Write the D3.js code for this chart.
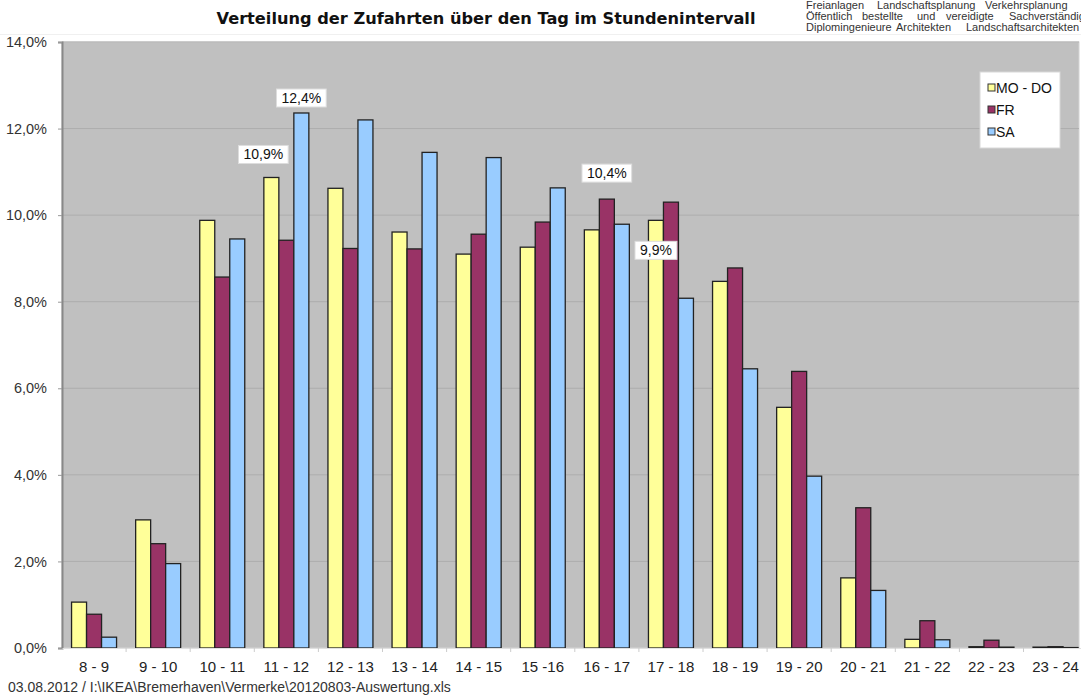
<!DOCTYPE html>
<html lang="de">
<head>
<meta charset="UTF-8">
<title>Verteilung der Zufahrten</title>
<script src="https://cdn.jsdelivr.net/npm/d3@7"></script>
<style>
  body { margin: 0; background: #fff; }
  text { font-family: "Liberation Sans", Arial, sans-serif; }
</style>
</head>
<body>
<script>
var hours = ['8 - 9', '9 - 10', '10 - 11', '11 - 12', '12 - 13', '13 - 14', '14 - 15', '15 -16',
             '16 - 17', '17 - 18', '18 - 19', '19 - 20', '20 - 21', '21 - 22', '22 - 23', '23 - 24'];
var series = ['MO - DO', 'FR', 'SA'];
var moDo = [1.06, 2.96, 9.88, 10.87, 10.62, 9.61, 9.10, 9.26, 9.66, 9.88, 8.47, 5.56, 1.62, 0.20, 0.03, 0.02];
var fr   = [0.78, 2.41, 8.57, 9.42, 9.23, 9.22, 9.56, 9.84, 10.37, 10.30, 8.78, 6.39, 3.24, 0.63, 0.18, 0.03];
var sa   = [0.25, 1.95, 9.45, 12.36, 12.20, 11.45, 11.33, 10.63, 9.79, 8.08, 6.45, 3.97, 1.33, 0.19, 0.02, 0.01];
var yTicks = [0, 2, 4, 6, 8, 10, 12, 14];
// beschriftete Werte: [Stunde, Reihe, Text]
var labels = [['11 - 12', 'MO - DO', '10,9%'], ['11 - 12', 'SA', '12,4%'],
              ['16 - 17', 'FR', '10,4%'], ['17 - 18', 'MO - DO', '9,9%']];

var colors = { 'MO - DO': '#ffff99', 'FR': '#993366', 'SA': '#99ccff' };
var values = { 'MO - DO': moDo, 'FR': fr, 'SA': sa };

var W = 1081, H = 695;
var pLeft = 62, pTop = 42, pBottom = 648, pRight = 1079;

var svg = d3.select('body').append('svg').attr('width', W).attr('height', H);

var x = d3.scaleBand().domain(hours).range([pLeft, pLeft + 16 * 64.1]).paddingInner(0).paddingOuter(0);
var xs = d3.scaleBand().domain(series).range([x.bandwidth() / 2 - 22.5, x.bandwidth() / 2 + 22.5]);
var y = d3.scaleLinear().domain([0, 14]).range([pBottom, pTop]);

// Plotfläche
svg.append('rect').attr('x', pLeft).attr('y', pTop).attr('width', pRight - pLeft).attr('height', pBottom - pTop)
  .attr('fill', '#c0c0c0').attr('stroke', '#d4d4d4');

// Gitternetz
svg.selectAll('line.grid').data(yTicks.slice(1)).enter().append('line')
  .attr('x1', pLeft).attr('x2', pRight)
  .attr('y1', function(d) { return y(d); }).attr('y2', function(d) { return y(d); })
  .attr('stroke', '#adadad').attr('stroke-width', 1);

// Balken
var groups = svg.selectAll('g.hour').data(hours).enter().append('g')
  .attr('transform', function(d) { return 'translate(' + x(d) + ',0)'; });

groups.selectAll('rect').data(function(h, i) {
    return series.map(function(s) { return { s: s, v: values[s][i] }; });
  }).enter().append('rect')
  .attr('x', function(d) { return xs(d.s); })
  .attr('width', xs.bandwidth())
  .attr('y', function(d) { return y(d.v); })
  .attr('height', function(d) { return pBottom - y(d.v); })
  .attr('fill', function(d) { return colors[d.s]; })
  .attr('stroke', '#222').attr('stroke-width', 1.3);

// Achsen
var yAxis = svg.append('g').attr('transform', 'translate(' + pLeft + ',0)')
  .call(d3.axisLeft(y).tickValues(yTicks).tickSize(4).tickPadding(11)
    .tickFormat(function(d) { return d3.format('.1f')(d).replace('.', ',') + '%'; }));
yAxis.select('.domain').attr('stroke', '#888').attr('stroke-width', 2);
yAxis.selectAll('.tick line').attr('stroke', '#999');
yAxis.selectAll('text').attr('font-size', 14.5).attr('fill', '#333').style('font-family', '"Liberation Sans", Arial, sans-serif');

var xAxis = svg.append('g').attr('transform', 'translate(0,' + pBottom + ')')
  .call(d3.axisBottom(x).tickSize(0).tickPadding(13));
xAxis.select('.domain').attr('stroke', '#e0e0e0');
xAxis.selectAll('text').attr('font-size', 15).attr('fill', '#222').style('font-family', '"Liberation Sans", Arial, sans-serif');
svg.selectAll('line.xt').data(hours.slice(1)).enter().append('line')
  .attr('x1', function(d) { return x(d); }).attr('x2', function(d) { return x(d); })
  .attr('y1', pBottom).attr('y2', pBottom + 4).attr('stroke', '#ccc');

// Datenbeschriftungen
var labelDy = { '10,9%': -23, '12,4%': -15, '10,4%': -26, '9,9%': 30 };
labels.forEach(function(l) {
  var i = hours.indexOf(l[0]);
  var cx = x(l[0]) + xs(l[1]) + xs.bandwidth() / 2;
  var cy = y(values[l[1]][i]) + labelDy[l[2]];
  if (l[2] === '10,9%') cx -= 8;
  var g = svg.append('g');
  var t = g.append('text').attr('x', cx).attr('y', cy + 5).attr('text-anchor', 'middle')
    .attr('font-size', 14).attr('fill', '#111').text(l[2]);
  var bb = t.node().getBBox();
  g.insert('rect', 'text').attr('x', bb.x - 5).attr('y', bb.y - 1).attr('width', bb.width + 10).attr('height', bb.height + 2)
    .attr('fill', '#fff').attr('stroke', '#ddd');
});

// Legende
var lg = svg.append('g').attr('transform', 'translate(980,72)');
lg.append('rect').attr('width', 80).attr('height', 76).attr('fill', '#fff').attr('stroke', '#d8d8d8');
series.forEach(function(s, i) {
  lg.append('rect').attr('x', 8).attr('y', 12 + i * 22).attr('width', 7).attr('height', 7)
    .attr('fill', colors[s]).attr('stroke', '#333');
  lg.append('text').attr('x', 16).attr('y', 21 + i * 22).attr('font-size', 14).attr('fill', '#111').text(s);
});

// Titel
svg.append('text').attr('x', 486).attr('y', 24).attr('text-anchor', 'middle')
  .style('font-family', '"DejaVu Sans", Verdana, sans-serif').attr('font-weight', 'bold')
  .attr('font-size', 16.2).attr('fill', '#111').text('Verteilung der Zufahrten über den Tag im Stundenintervall');

// Briefkopf rechts oben (Blocksatz, rechts abgeschnitten)
var head = [[['Freianlagen', 806], ['Landschaftsplanung', 877], ['Verkehrsplanung', 985]],
            [['Öffentlich', 806], ['bestellte', 862], ['und', 917], ['vereidigte', 946], ['Sachverständige', 1009]],
            [['Diplomingenieure', 806], ['Architekten', 896], ['Landschaftsarchitekten', 966]]];
head.forEach(function(line, r) {
  line.forEach(function(w) {
    svg.append('text').attr('x', w[1]).attr('y', 9 + r * 11).attr('font-size', 11).attr('fill', '#333').text(w[0]);
  });
});
svg.append('line').attr('x1', 0).attr('x2', W).attr('y1', 34.5).attr('y2', 34.5).attr('stroke', '#f0f0f0');

// Fußzeile
svg.append('text').attr('x', 8).attr('y', 692).attr('font-size', 14).attr('fill', '#333')
  .text('03.08.2012 / I:\\IKEA\\Bremerhaven\\Vermerke\\20120803-Auswertung.xls');
</script>
</body>
</html>
